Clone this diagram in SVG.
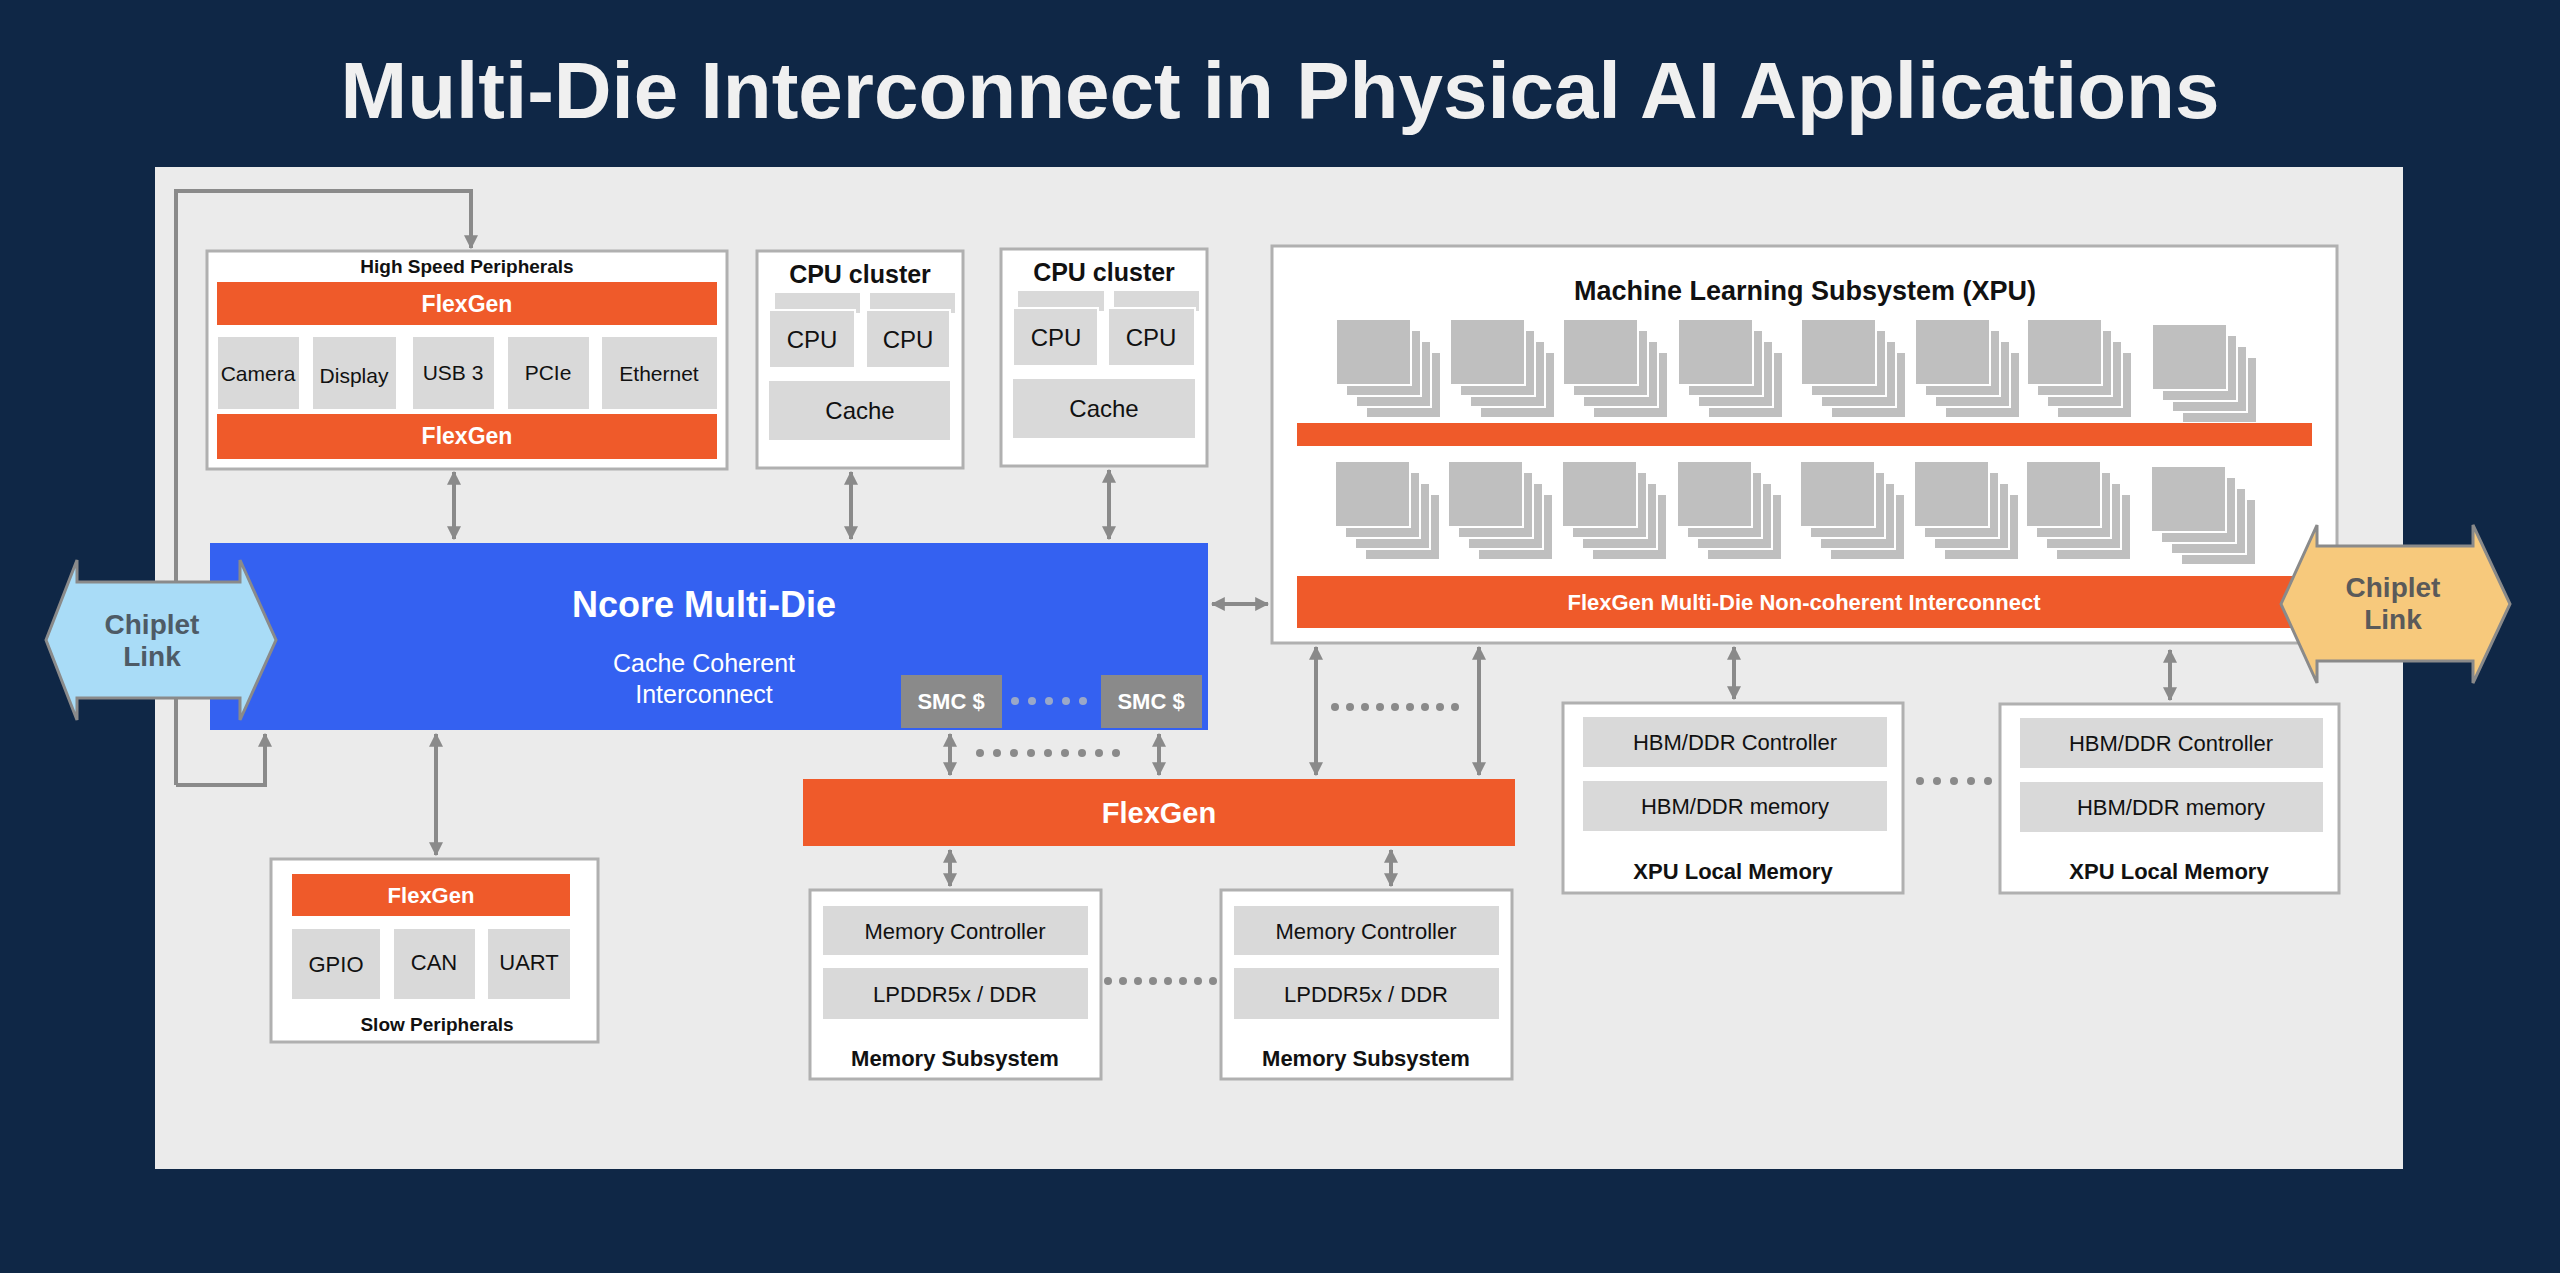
<svg xmlns="http://www.w3.org/2000/svg" xmlns:xlink="http://www.w3.org/1999/xlink" width="2560" height="1273" viewBox="0 0 2560 1273">
<style>
text{font-family:"Liberation Sans",Arial,sans-serif;text-anchor:middle;dominant-baseline:central}
.b{font-weight:bold}
.box{fill:#fff;stroke:#b0b0b0;stroke-width:3}
.g{fill:#d9d9d9}
.or{fill:#ef5a2a}
.wt{fill:#fff}
.k{fill:#111}
.ln{stroke:#8a8a8a;stroke-width:4;fill:none}
.dot{fill:#8a8a8a}
</style>
<defs>
<marker id="ah" viewBox="0 0 12 12" refX="11" refY="6" markerWidth="14" markerHeight="16" markerUnits="userSpaceOnUse" orient="auto-start-reverse"><path d="M0,0 L12,6 L0,12 Z" fill="#8a8a8a"/></marker>
<g id="stk">
<rect x="30" y="33" width="75" height="66" fill="#bfbfbf" stroke="#fff" stroke-width="2"/>
<rect x="20" y="22" width="75" height="66" fill="#bfbfbf" stroke="#fff" stroke-width="2"/>
<rect x="10" y="11" width="75" height="66" fill="#bfbfbf" stroke="#fff" stroke-width="2"/>
<rect x="0" y="0" width="75" height="66" fill="#bfbfbf" stroke="#fff" stroke-width="2"/>
</g>
</defs>
<rect width="2560" height="1273" fill="#0f2746"/>
<text x="1280" y="90" class="b" font-size="80" fill="#f0f0f0">Multi-Die Interconnect in Physical AI Applications</text>
<rect x="155" y="167" width="2248" height="1002" fill="#ebebeb"/>

<g id="connectors">
<path class="ln" d="M176,785 V191 H471 V248" marker-end="url(#ah)"/>
<path class="ln" d="M176,785 H265 V734" marker-end="url(#ah)"/>
<path class="ln" d="M454,472 V539" marker-start="url(#ah)" marker-end="url(#ah)"/>
<path class="ln" d="M851,472 V539" marker-start="url(#ah)" marker-end="url(#ah)"/>
<path class="ln" d="M1109,470 V539" marker-start="url(#ah)" marker-end="url(#ah)"/>
<path class="ln" d="M1212,604 H1268" marker-start="url(#ah)" marker-end="url(#ah)"/>
<path class="ln" d="M436,734 V855" marker-start="url(#ah)" marker-end="url(#ah)"/>
<path class="ln" d="M950,734 V775" marker-start="url(#ah)" marker-end="url(#ah)"/>
<path class="ln" d="M1159,734 V775" marker-start="url(#ah)" marker-end="url(#ah)"/>
<path class="ln" d="M1316,647 V775" marker-start="url(#ah)" marker-end="url(#ah)"/>
<path class="ln" d="M1479,647 V775" marker-start="url(#ah)" marker-end="url(#ah)"/>
<path class="ln" d="M950,850 V886" marker-start="url(#ah)" marker-end="url(#ah)"/>
<path class="ln" d="M1391,850 V886" marker-start="url(#ah)" marker-end="url(#ah)"/>
<path class="ln" d="M1734,647 V699" marker-start="url(#ah)" marker-end="url(#ah)"/>
<path class="ln" d="M2170,650 V700" marker-start="url(#ah)" marker-end="url(#ah)"/>
<g class="dot">
<circle cx="1016" cy="702" r="4"/><circle cx="1032" cy="702" r="4"/><circle cx="1048" cy="702" r="4"/><circle cx="1064" cy="702" r="4"/><circle cx="1080" cy="702" r="4"/>
<circle cx="980" cy="753" r="4"/><circle cx="997" cy="753" r="4"/><circle cx="1014" cy="753" r="4"/><circle cx="1031" cy="753" r="4"/><circle cx="1048" cy="753" r="4"/><circle cx="1065" cy="753" r="4"/><circle cx="1082" cy="753" r="4"/><circle cx="1099" cy="753" r="4"/><circle cx="1116" cy="753" r="4"/>
<circle cx="1335" cy="707" r="4"/><circle cx="1350" cy="707" r="4"/><circle cx="1365" cy="707" r="4"/><circle cx="1380" cy="707" r="4"/><circle cx="1395" cy="707" r="4"/><circle cx="1410" cy="707" r="4"/><circle cx="1425" cy="707" r="4"/><circle cx="1440" cy="707" r="4"/><circle cx="1455" cy="707" r="4"/>
<circle cx="1108" cy="981" r="4"/><circle cx="1123" cy="981" r="4"/><circle cx="1138" cy="981" r="4"/><circle cx="1153" cy="981" r="4"/><circle cx="1168" cy="981" r="4"/><circle cx="1183" cy="981" r="4"/><circle cx="1198" cy="981" r="4"/><circle cx="1213" cy="981" r="4"/>
<circle cx="1920" cy="781" r="4"/><circle cx="1937" cy="781" r="4"/><circle cx="1954" cy="781" r="4"/><circle cx="1971" cy="781" r="4"/><circle cx="1988" cy="781" r="4"/>
</g>
</g>

<g id="hsp">
<rect class="box" x="207" y="251" width="520" height="218"/>
<text x="467" y="266" class="b k" font-size="19">High Speed Peripherals</text>
<rect class="or" x="217" y="282" width="500" height="43"/><text x="467" y="304" class="b wt" font-size="23">FlexGen</text>
<rect class="g" x="218" y="337" width="81" height="72"/><text x="258" y="373" font-size="21" class="k">Camera</text>
<rect class="g" x="313" y="337" width="83" height="72"/><text x="354" y="375" font-size="21" class="k">Display</text>
<rect class="g" x="413" y="337" width="81" height="72"/><text x="453" y="372" font-size="21" class="k">USB 3</text>
<rect class="g" x="508" y="337" width="81" height="72"/><text x="548" y="372" font-size="21" class="k">PCIe</text>
<rect class="g" x="602" y="337" width="115" height="72"/><text x="659" y="373" font-size="21" class="k">Ethernet</text>
<rect class="or" x="217" y="414" width="500" height="45"/><text x="467" y="436" class="b wt" font-size="23">FlexGen</text>
</g>

<g id="cpu1">
<rect class="box" x="757" y="251" width="206" height="217"/>
<text x="860" y="274" class="b k" font-size="25">CPU cluster</text>
<rect class="g" x="775" y="293" width="85" height="20"/><rect class="g" x="870" y="293" width="85" height="20"/>
<rect class="g" x="769" y="310" width="86" height="58" stroke="#fff" stroke-width="2"/><text x="812" y="339" font-size="24" class="k">CPU</text>
<rect class="g" x="866" y="310" width="84" height="58" stroke="#fff" stroke-width="2"/><text x="908" y="339" font-size="24" class="k">CPU</text>
<rect class="g" x="769" y="381" width="181" height="59"/><text x="860" y="410" font-size="24" class="k">Cache</text>
</g>
<g id="cpu2">
<rect class="box" x="1001" y="249" width="206" height="217"/>
<text x="1104" y="272" class="b k" font-size="25">CPU cluster</text>
<rect class="g" x="1018" y="291" width="86" height="20"/><rect class="g" x="1114" y="291" width="85" height="20"/>
<rect class="g" x="1013" y="308" width="85" height="58" stroke="#fff" stroke-width="2"/><text x="1056" y="337" font-size="24" class="k">CPU</text>
<rect class="g" x="1108" y="308" width="87" height="58" stroke="#fff" stroke-width="2"/><text x="1151" y="337" font-size="24" class="k">CPU</text>
<rect class="g" x="1013" y="379" width="182" height="59"/><text x="1104" y="408" font-size="24" class="k">Cache</text>
</g>

<g id="ncore">
<rect x="210" y="543" width="998" height="187" fill="#3461f1"/>
<text x="704" y="604" class="b wt" font-size="36">Ncore Multi-Die</text>
<text x="704" y="663" class="wt" font-size="25">Cache Coherent</text>
<text x="704" y="694" class="wt" font-size="25">Interconnect</text>
<rect x="901" y="675" width="101" height="53" fill="#8a8a8a"/><text x="951" y="701" class="b wt" font-size="22">SMC $</text>
<rect x="1101" y="675" width="101" height="53" fill="#8a8a8a"/><text x="1151" y="701" class="b wt" font-size="22">SMC $</text>
<g fill="#9aa8c8"><circle cx="1015" cy="701" r="4"/><circle cx="1032" cy="701" r="4"/><circle cx="1049" cy="701" r="4"/><circle cx="1066" cy="701" r="4"/><circle cx="1083" cy="701" r="4"/></g>
</g>

<g id="chiplet-left">
<path d="M46,640 L77,560 V582 H240 V560 L276,640 L240,720 V698 H77 V720 Z" fill="#a9dcf7" stroke="#8a8a8a" stroke-width="3"/>
<text x="152" y="624" class="b" font-size="28" fill="#4e5b66">Chiplet</text>
<text x="152" y="656" class="b" font-size="28" fill="#4e5b66">Link</text>
</g>

<g id="ml">
<rect class="box" x="1272" y="246" width="1065" height="397"/>
<text x="1805" y="291" class="b k" font-size="27">Machine Learning Subsystem (XPU)</text>
<use xlink:href="#stk" x="1336" y="319"/><use xlink:href="#stk" x="1450" y="319"/><use xlink:href="#stk" x="1563" y="319"/><use xlink:href="#stk" x="1678" y="319"/><use xlink:href="#stk" x="1801" y="319"/><use xlink:href="#stk" x="1915" y="319"/><use xlink:href="#stk" x="2027" y="319"/><use xlink:href="#stk" x="2152" y="324"/>
<rect class="or" x="1297" y="423" width="1015" height="23"/>
<use xlink:href="#stk" x="1335" y="461"/><use xlink:href="#stk" x="1448" y="461"/><use xlink:href="#stk" x="1562" y="461"/><use xlink:href="#stk" x="1677" y="461"/><use xlink:href="#stk" x="1800" y="461"/><use xlink:href="#stk" x="1914" y="461"/><use xlink:href="#stk" x="2026" y="461"/><use xlink:href="#stk" x="2151" y="466"/>
<rect class="or" x="1297" y="576" width="1015" height="52"/>
<text x="1804" y="602" class="b wt" font-size="22">FlexGen Multi-Die Non-coherent Interconnect</text>
</g>

<g id="chiplet-right">
<path d="M2281,604 L2317,525 V546 H2473 V525 L2510,604 L2473,683 V661 H2317 V683 Z" fill="#f7c97c" stroke="#8a8a8a" stroke-width="3"/>
<text x="2393" y="587" class="b" font-size="28" fill="#5a5a5a">Chiplet</text>
<text x="2393" y="619" class="b" font-size="28" fill="#5a5a5a">Link</text>
</g>

<g id="xpu-mem1">
<rect class="box" x="1563" y="703" width="340" height="190"/>
<rect class="g" x="1583" y="717" width="304" height="50"/><text x="1735" y="742" font-size="22" class="k">HBM/DDR Controller</text>
<rect class="g" x="1583" y="781" width="304" height="50"/><text x="1735" y="806" font-size="22" class="k">HBM/DDR memory</text>
<text x="1733" y="871" class="b k" font-size="22">XPU Local Memory</text>
</g>
<g id="xpu-mem2">
<rect class="box" x="2000" y="704" width="339" height="189"/>
<rect class="g" x="2020" y="718" width="303" height="50"/><text x="2171" y="743" font-size="22" class="k">HBM/DDR Controller</text>
<rect class="g" x="2020" y="782" width="303" height="50"/><text x="2171" y="807" font-size="22" class="k">HBM/DDR memory</text>
<text x="2169" y="871" class="b k" font-size="22">XPU Local Memory</text>
</g>

<g id="flexgen">
<rect class="or" x="803" y="779" width="712" height="67"/>
<text x="1159" y="813" class="b wt" font-size="29">FlexGen</text>
</g>

<g id="mem1">
<rect class="box" x="810" y="890" width="291" height="189"/>
<rect class="g" x="823" y="906" width="265" height="49"/><text x="955" y="931" font-size="22" class="k">Memory Controller</text>
<rect class="g" x="823" y="968" width="265" height="51"/><text x="955" y="994" font-size="22" class="k">LPDDR5x / DDR</text>
<text x="955" y="1058" class="b k" font-size="22">Memory Subsystem</text>
</g>
<g id="mem2">
<rect class="box" x="1221" y="890" width="291" height="189"/>
<rect class="g" x="1234" y="906" width="265" height="49"/><text x="1366" y="931" font-size="22" class="k">Memory Controller</text>
<rect class="g" x="1234" y="968" width="265" height="51"/><text x="1366" y="994" font-size="22" class="k">LPDDR5x / DDR</text>
<text x="1366" y="1058" class="b k" font-size="22">Memory Subsystem</text>
</g>

<g id="slow">
<rect class="box" x="271" y="859" width="327" height="183"/>
<rect class="or" x="292" y="874" width="278" height="42"/><text x="431" y="895" class="b wt" font-size="22">FlexGen</text>
<rect class="g" x="292" y="929" width="88" height="70"/><text x="336" y="964" font-size="22" class="k">GPIO</text>
<rect class="g" x="394" y="929" width="81" height="70"/><text x="434" y="962" font-size="22" class="k">CAN</text>
<rect class="g" x="488" y="929" width="82" height="70"/><text x="529" y="962" font-size="22" class="k">UART</text>
<text x="437" y="1024" class="b k" font-size="19">Slow Peripherals</text>
</g>
</svg>
